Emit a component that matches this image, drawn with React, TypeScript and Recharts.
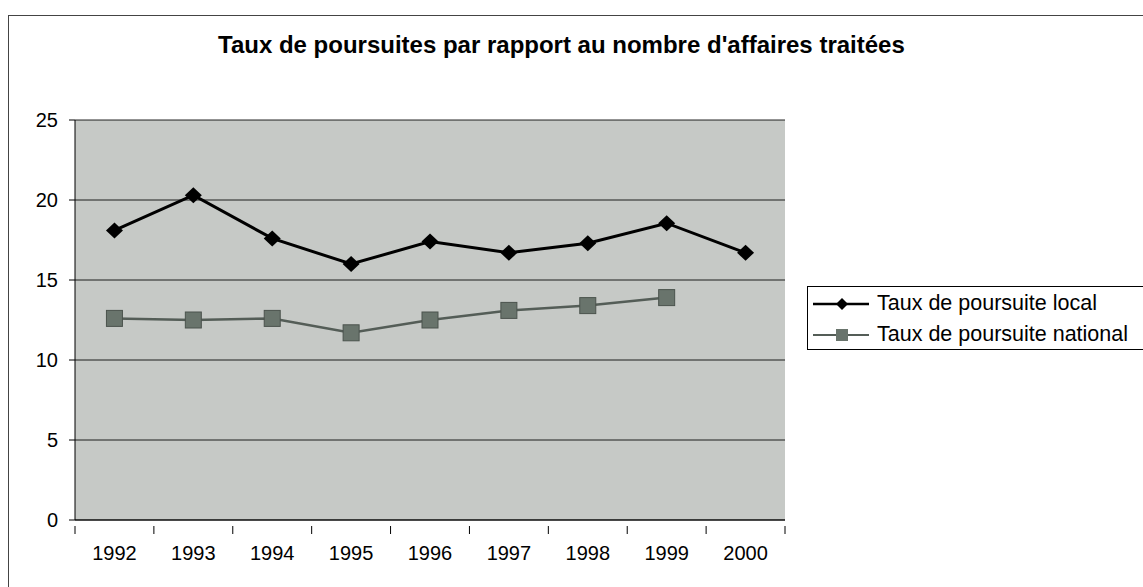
import { LineChart, Line, XAxis, YAxis, CartesianGrid } from "recharts";

const years = ["1992", "1993", "1994", "1995", "1996", "1997", "1998", "1999", "2000"];
const localRate = [18.1, 20.3, 17.6, 16.0, 17.4, 16.7, 17.3, 18.55, 16.7];
const nationalRate: (number | null)[] = [12.6, 12.5, 12.6, 11.7, 12.5, 13.1, 13.4, 13.9, null];
const yTicks = [0, 5, 10, 15, 20, 25];

const data = years.map((year, i) => ({
    year,
    local: localRate[i],
    national: nationalRate[i],
}));

const FONT = "'Liberation Sans', Arial, sans-serif";
const NATIONAL_FILL = "#69746c";
const NATIONAL_LINE = "#545d57";
const PLOT_W = 710;
const STEP = PLOT_W / years.length;

const Diamond = (props: any) => {
    const { cx, cy } = props;
    if (cx == null || cy == null) return null;
    const rx = 8.5;
    const ry = 8;
    return <polygon points={`${cx},${cy - ry} ${cx + rx},${cy} ${cx},${cy + ry} ${cx - rx},${cy}`} fill="#000" />;
};

const Square = (props: any) => {
    const { cx, cy, value } = props;
    if (cx == null || cy == null || value == null) return null;
    const s = 8;
    return <rect x={cx - s} y={cy - s} width={s * 2} height={s * 2} fill={NATIONAL_FILL} stroke="#4b534d" strokeWidth={1} />;
};

// Excel-style category axis: labels in the middle, tick marks between categories
const XTick = (props: any) => {
    const { x, y, payload, index } = props;
    const left = x - STEP / 2;
    return (
        <g>
            <line x1={left} y1={y - 2} x2={left} y2={y + 6} stroke="#000" />
            {index === years.length - 1 && <line x1={left + STEP} y1={y - 2} x2={left + STEP} y2={y + 6} stroke="#000" />}
            <text x={x} y={y + 32} textAnchor="middle" fontSize={20} fontFamily={FONT} fill="#000">
                {payload.value}
            </text>
        </g>
    );
};

const LegendBox = () => (
    <div style={{ position: "absolute", left: 807, top: 286, height: 64, width: 380, border: "1px solid #000", background: "#fff", boxSizing: "border-box", padding: "1px 5px", fontFamily: FONT, fontSize: 21.5, color: "#000" }}>
        <div style={{ display: "flex", alignItems: "center", height: 31 }}>
            <svg width={58} height={20}>
                <line x1={0} y1={10} x2={56} y2={10} stroke="#000" strokeWidth={2.5} />
                <polygon points="29,4 35,10 29,16 23,10" fill="#000" />
            </svg>
            <span style={{ marginLeft: 6 }}>Taux de poursuite local</span>
        </div>
        <div style={{ display: "flex", alignItems: "center", height: 31 }}>
            <svg width={58} height={20}>
                <line x1={0} y1={10} x2={56} y2={10} stroke={NATIONAL_LINE} strokeWidth={2} />
                <rect x={23} y={4} width={12} height={12} fill={NATIONAL_FILL} />
            </svg>
            <span style={{ marginLeft: 6 }}>Taux de poursuite national</span>
        </div>
    </div>
);

const App = () => {
    return (
        <div style={{ position: "absolute", left: 0, top: 0, width: 1143, height: 587, background: "#fff", overflow: "hidden" }}>
            <div style={{ position: "absolute", left: 8, top: 15, width: 1160, height: 600, border: "1px solid #444" }} />
            <div style={{ position: "absolute", left: 218, top: 31, whiteSpace: "nowrap", fontFamily: FONT, fontWeight: "bold", fontSize: 24, lineHeight: "28px", color: "#000" }}>
                Taux de poursuites par rapport au nombre d'affaires traitées
            </div>
            <div style={{ position: "absolute", left: 0, top: 0 }}>
                <LineChart width={1143} height={587} data={data} margin={{ top: 120, right: 358, bottom: 0, left: 0 }}>
                    <CartesianGrid vertical={false} fill="#c6c9c6" stroke="#000" strokeOpacity={0.85} />
                    <XAxis dataKey="year" height={67} axisLine={{ stroke: "#000" }} tickLine={false} tick={<XTick />} interval={0}
                        padding={{ left: STEP / 2, right: STEP / 2 }} />
                    <YAxis width={75} domain={[0, 25]} ticks={yTicks} axisLine={{ stroke: "#000" }} tickLine={{ stroke: "#000" }} tickSize={6} tickMargin={11}
                        tick={{ fill: "#000", fontSize: 20, fontFamily: FONT }} />
                    <Line type="linear" dataKey="local" stroke="#000" strokeWidth={3} dot={<Diamond />} isAnimationActive={false} />
                    <Line type="linear" dataKey="national" stroke={NATIONAL_LINE} strokeWidth={2.5} dot={<Square />} isAnimationActive={false} />
                </LineChart>
            </div>
            <LegendBox />
        </div>
    );
};

export default App;
